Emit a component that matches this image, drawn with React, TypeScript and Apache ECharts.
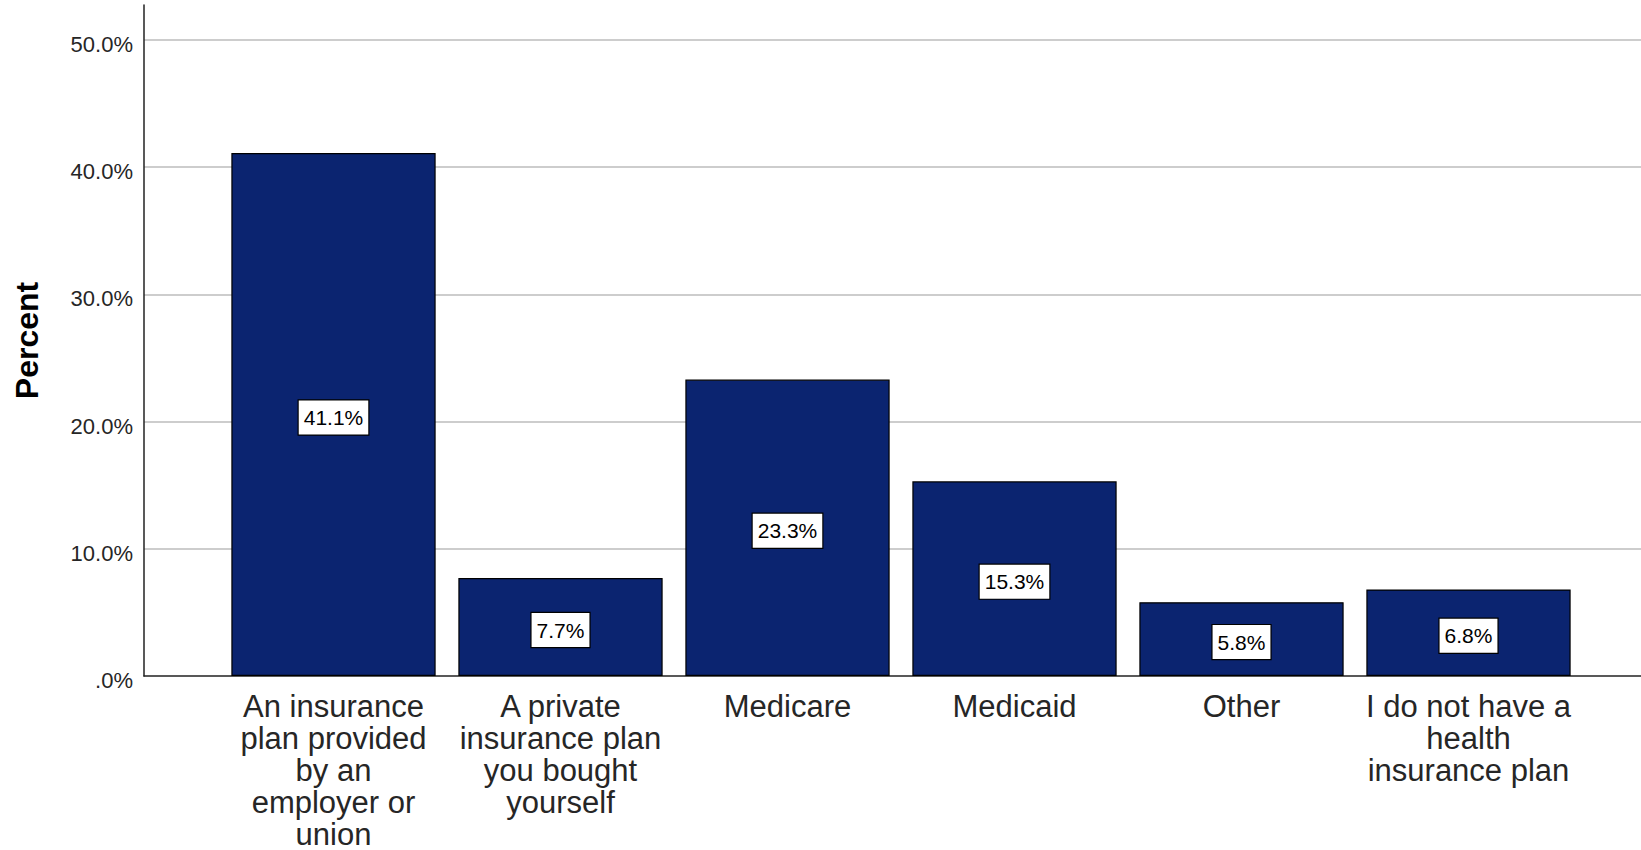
import React, { useEffect, useRef } from "react";
import * as echarts from "echarts";

const categories: string[] = [
  "An insurance\nplan provided\nby an\nemployer or\nunion",
  "A private\ninsurance plan\nyou bought\nyourself",
  "Medicare",
  "Medicaid",
  "Other",
  "I do not have a\nhealth\ninsurance plan",
];
const percents: number[] = [41.1, 7.7, 23.3, 15.3, 5.8, 6.8];
const yTicks: number[] = [0, 10, 20, 30, 40, 50];
const yTickLabels: string[] = [".0%", "10.0%", "20.0%", "30.0%", "40.0%", "50.0%"];
const yAxisTitle = "Percent";

const FONT = "'Liberation Sans', Arial, Helvetica, sans-serif";
const Y_MAX = 52.74;

export default function App() {
  const ref = useRef<HTMLDivElement>(null);
  useEffect(() => {
    if (!ref.current) return;
    const chart = echarts.init(ref.current, null, { renderer: "svg" });
    chart.setOption({
      animation: false,
      backgroundColor: "#ffffff",
      textStyle: { fontFamily: FONT },
      grid: [
        { left: 144, right: 0, top: 5, bottom: 174, containLabel: false },
        { left: 220, right: 59, top: 5, bottom: 174, containLabel: false },
      ],
      xAxis: [
        {
          gridIndex: 0,
          type: "value",
          min: 0,
          max: 1,
          axisLine: { show: true, onZero: false, lineStyle: { color: "#222222", width: 1.5 } },
          axisTick: { show: false },
          axisLabel: { show: false },
          splitLine: { show: false },
        },
        {
          gridIndex: 1,
          type: "category",
          data: categories,
          axisLine: { show: false },
          axisTick: { show: false },
          splitLine: { show: false },
          axisLabel: {
            interval: 0,
            margin: 14,
            fontSize: 31,
            lineHeight: 32,
            color: "#262626",
            fontFamily: FONT,
            align: "center",
          },
        },
      ],
      yAxis: [
        {
          gridIndex: 0,
          type: "value",
          min: 0,
          max: Y_MAX,
          interval: 10,
          name: yAxisTitle,
          nameLocation: "middle",
          nameRotate: 90,
          nameGap: 101,
          nameTextStyle: { fontSize: 32, fontWeight: "bold", color: "#000", fontFamily: FONT },
          axisLine: { show: true, lineStyle: { color: "#222222", width: 1.5 } },
          axisTick: { show: false },
          axisLabel: {
            margin: 11,
            fontSize: 22,
            color: "#262626",
            fontFamily: FONT,
            showMaxLabel: false,
            formatter: (v: number) => {
              const i = yTicks.indexOf(Math.round(v * 1000) / 1000);
              return i >= 0 ? `{t|${yTickLabels[i]}}` : "";
            },
            rich: {
              t: {
                fontSize: 22,
                color: "#262626",
                fontFamily: FONT,
                padding: [9, 0, 0, 0],
              },
            },
          },
          splitLine: {
            show: true,
            showMinLine: false,
            showMaxLine: false,
            lineStyle: { color: "#bdbdbd", width: 1.5 },
          },
        },
        {
          gridIndex: 1,
          type: "value",
          min: 0,
          max: Y_MAX,
          show: false,
          splitLine: { show: false },
        },
      ],
      series: [
        {
          type: "bar",
          xAxisIndex: 1,
          yAxisIndex: 1,
          data: percents,
          barWidth: "90%",
          itemStyle: { color: "#0b2470", borderColor: "#000000", borderWidth: 1.2 },
          label: {
            show: true,
            position: "inside",
            offset: [0, 3],
            formatter: (p: any) => `${Number(p.value).toFixed(1)}%`,
            fontSize: 21,
            lineHeight: 22,
            color: "#000",
            fontFamily: FONT,
            backgroundColor: "#ffffff",
            borderColor: "#000000",
            borderWidth: 1.2,
            padding: [6, 5],
          },
        },
      ],
    });
    return () => chart.dispose();
  }, []);
  return (
    <div
      ref={ref}
      style={{ position: "absolute", left: 0, top: 0, width: 1641, height: 850 }}
    />
  );
}
